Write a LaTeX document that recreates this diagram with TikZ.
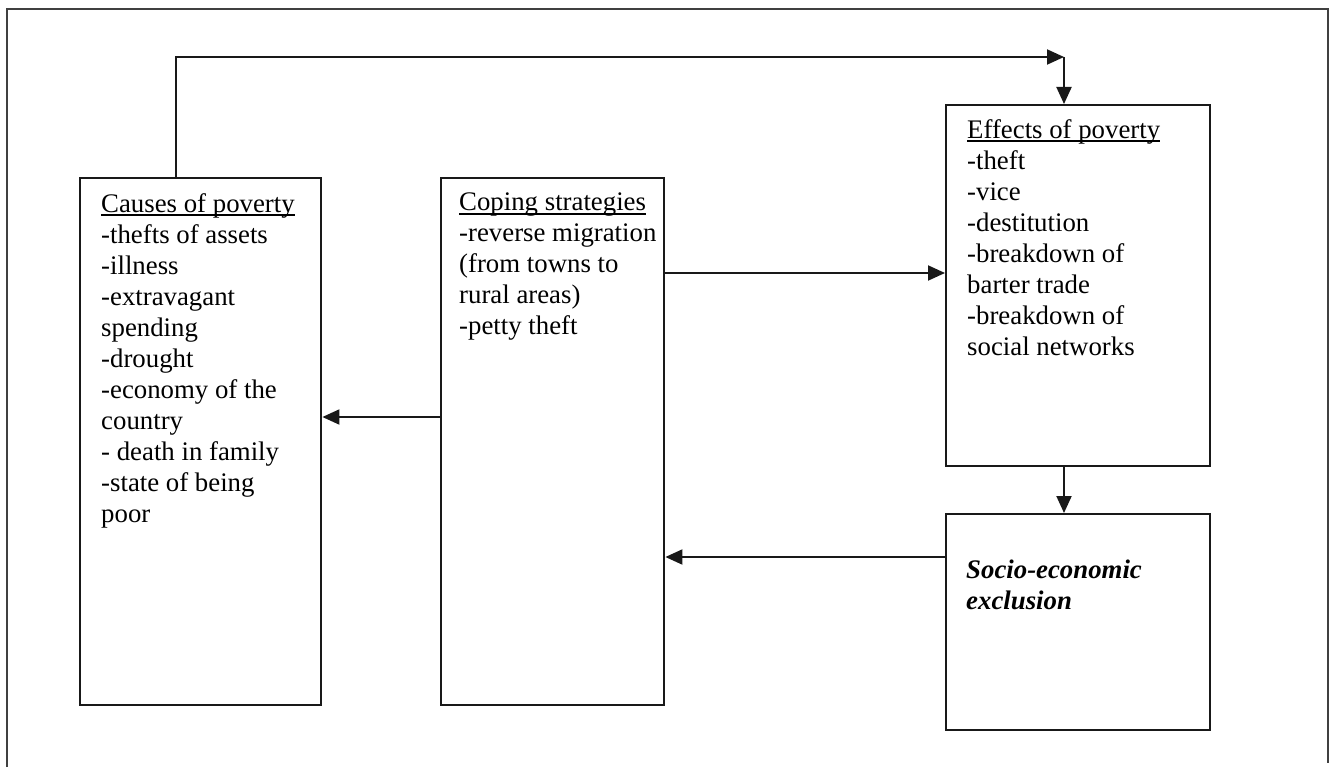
\documentclass[tikz,border=0pt]{standalone}
\usepackage{fontspec}
\setmainfont{Liberation Serif}
\usetikzlibrary{arrows.meta}
% underline drawn through the descenders, word-processor style
\newcommand\hdrline[1]{\setbox0\hbox{#1}\rlap{\rule[-3.6pt]{\wd0}{1.3pt}}\box0}
\tikzset{
  panel/.style={draw=black!90, line width=2.4pt, inner sep=0pt, anchor=north west},
  boxtext/.style={anchor=north west, inner sep=0pt, align=left,
    font=\fontsize{26.8}{31}\selectfont},
  link/.style={line width=2pt, draw=black!90, -{Triangle[length=17pt,width=15pt]}},
}
\begin{document}
\begin{tikzpicture}[x=1pt, y=-1pt]
\useasboundingbox (0,0) rectangle (1335,773);
% outer frame (open at the bottom)
\draw[line width=1.5pt, draw=black!75] (7,767) -- (7,9) -- (1328,9) -- (1328,763);

% boxes
\node[panel, minimum width=241pt, minimum height=527pt] (causes) at (79,177) {};
\node[panel, minimum width=223pt, minimum height=527pt] (coping) at (440,177) {};
\node[panel, minimum width=264pt, minimum height=361pt] (effects) at (945,104) {};
\node[panel, minimum width=264pt, minimum height=216pt] (socio) at (945,513) {};

% box texts
\node[boxtext] (causestext) at (101,193) {\hdrline{Causes of poverty}\\
  -thefts of assets\\ -illness\\ -extravagant\\ spending\\ -drought\\
  -economy of the\\ country\\ - death in family\\ -state of being\\ poor};
\node[boxtext] (copingtext) at (459,193) {\hdrline{Coping strategies}\\
  -reverse migration\\ (from towns to\\ rural areas)\\ -petty theft};
\node[boxtext] (effectstext) at (967,119) {\hdrline{Effects of poverty}\\
  -theft\\ -vice\\ -destitution\\ -breakdown of\\ barter trade\\
  -breakdown of\\ social networks};
\node[boxtext, font=\fontsize{26.8}{31}\selectfont\bfseries\itshape] (sociotext) at (966,560)
  {Socio-economic\\ exclusion};

% connectors
\coordinate (corner) at (1064,57);
\draw[link] (causes.north west -| 176,0) |- (corner);
\draw[link] (corner) -- (effects.north west -| corner);
\draw[link] (coping.east |- 0,273) -- (effects.west |- 0,273);
\draw[link] (coping.west |- 0,417) -- (causes.east |- 0,417);
\draw[link] (effects.south west -| 1064,0) -- (socio.north west -| 1064,0);
\draw[link] (socio.west |- 0,557) -- (coping.east |- 0,557);
\end{tikzpicture}
\end{document}
